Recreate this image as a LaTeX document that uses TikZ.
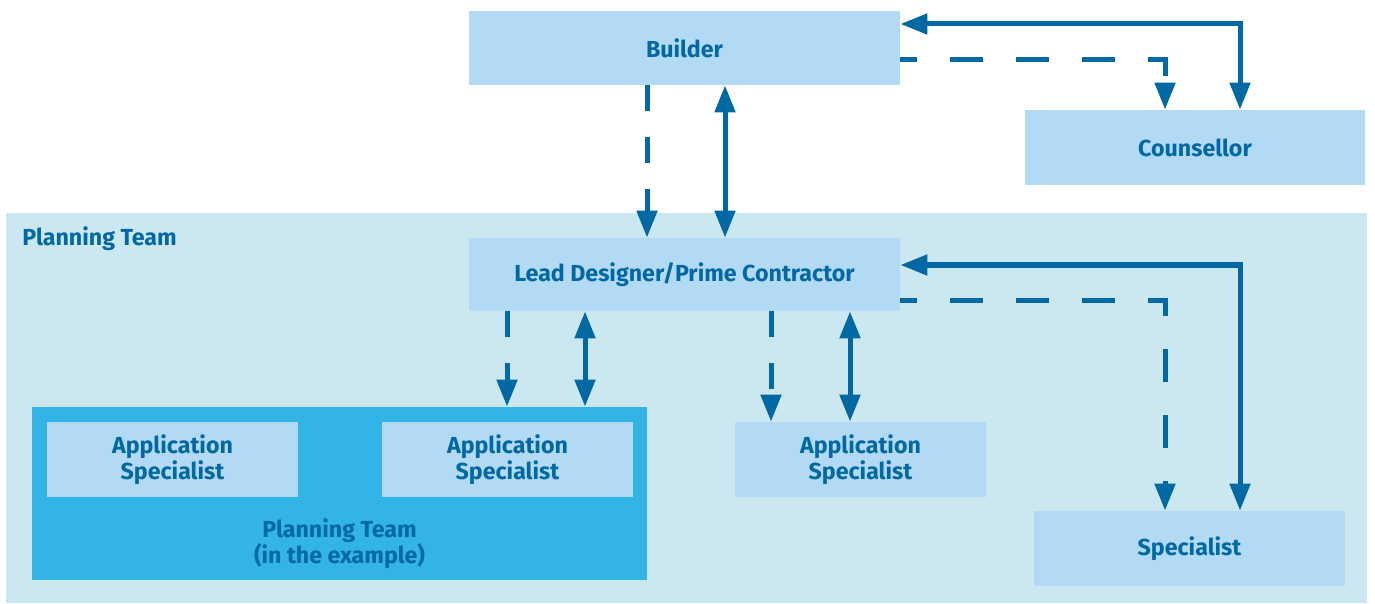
\documentclass[tikz,border=0pt]{standalone}
\usepackage{fontspec}
\setmainfont{Fira Sans}
\usepackage{tikz}
\usetikzlibrary{arrows.meta,positioning,calc}
\definecolor{TextBlue}{HTML}{0068A3}
\definecolor{BoxBlue}{HTML}{B2DAF5}
\definecolor{TeamBlue}{HTML}{CBE7F0}
\definecolor{DeepBlue}{HTML}{32B4E6}
\tikzset{
  rolebox/.style={fill=BoxBlue, align=center, text=TextBlue,
                  font=\fontsize{11.6}{13}\selectfont\bfseries, inner sep=0pt},
  onearr/.style={-{Triangle[length=13.5pt,width=10pt]}, line width=2.5pt, TextBlue,
                 dash pattern=on 16.5pt off 16.5pt},
  shortdash/.style={dash pattern=on 13pt off 13pt},
  twoarr/.style={{Triangle[length=13.5pt,width=10pt]}-{Triangle[length=13.5pt,width=10pt]},
                 line width=2.5pt, TextBlue}
}
\begin{document}
\begin{tikzpicture}[x=0.5pt, y=-0.5pt]
\useasboundingbox (0,0) rectangle (1375,604);
% team areas
\node[fill=TeamBlue, minimum width=680.5pt, minimum height=195pt, inner sep=0pt] (teamarea) at (686.5,408) {};
\node[anchor=west, inner sep=0pt, text=TextBlue, font=\fontsize{11.6}{13}\selectfont\bfseries] (teamlabel) at (22,239) {Planning Team};
\node[fill=DeepBlue, minimum width=307.5pt, minimum height=86.5pt, inner sep=0pt] (examplebox) at (339.5,493.5) {};
\node[align=center, text=TextBlue, font=\fontsize{11.6}{13}\selectfont\bfseries] (examplelabel) at (339.5,544) {Planning Team\\(in the example)};
% boxes
\node[rolebox, minimum width=215.5pt, minimum height=37pt] (builder) at (684.5,48) {Builder};
\node[rolebox, minimum width=170pt, minimum height=37.5pt] (counsellor) at (1195,147.5) {Counsellor};
\node[rolebox, minimum width=215.5pt, minimum height=36.5pt] (lead) at (684.5,274.5) {Lead Designer/Prime Contractor};
\node[rolebox, minimum width=125.5pt, minimum height=37.5pt] (app1) at (172.5,459.5) {Application\\Specialist};
\node[rolebox, minimum width=125.5pt, minimum height=37.5pt] (app2) at (507.5,459.5) {Application\\Specialist};
\node[rolebox, minimum width=125.5pt, minimum height=37.5pt] (app3) at (860.5,459.5) {Application\\Specialist};
\node[rolebox, minimum width=155.5pt, minimum height=37.5pt] (specialist) at (1189.5,548.5) {Specialist};
% builder links
\draw[onearr, shortdash] (builder.south -| 647,0) -- (lead.north -| 647,0);
\draw[twoarr] (builder.south -| 725,0) -- (lead.north -| 725,0);
\draw[onearr, dash phase=8pt] (builder.east |- 0,60) -| (counsellor.north -| 1165,0);
\draw[twoarr] (builder.east |- 0,24) -| (counsellor.north -| 1240,0);
% lead links
\draw[onearr, shortdash] (lead.south -| 507,0) -- (examplebox.north -| 507,0);
\draw[twoarr] (lead.south -| 585,0) -- (examplebox.north -| 585,0);
\draw[onearr, shortdash] (lead.south -| 771,0) -- (app3.north -| 771,0);
\draw[twoarr] (lead.south -| 850,0) -- (app3.north -| 850,0);
\draw[onearr, dash phase=8pt] (lead.east |- 0,300) -| (specialist.north -| 1165,0);
\draw[twoarr] (lead.east |- 0,265) -| (specialist.north -| 1240,0);
\end{tikzpicture}
\end{document}
